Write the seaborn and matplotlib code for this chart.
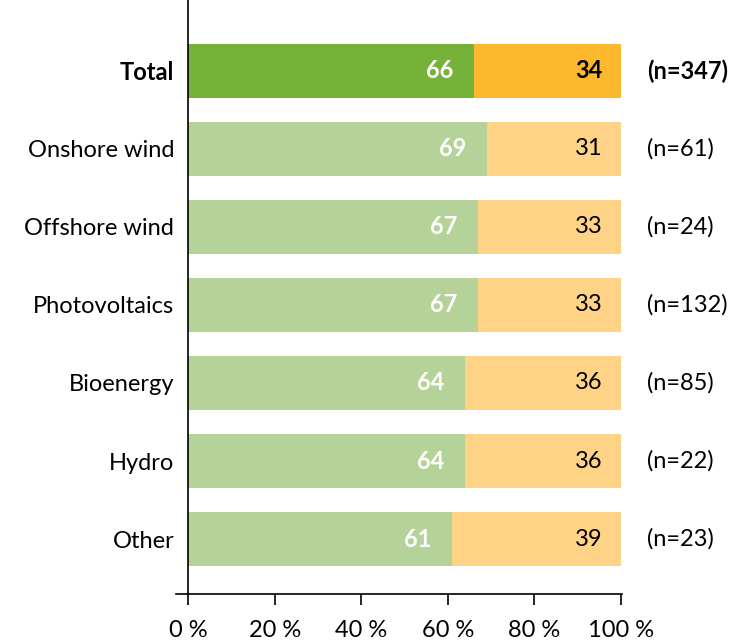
import matplotlib
matplotlib.use("Agg")
import matplotlib.pyplot as plt
import seaborn as sns
import pandas as pd

categories = ["Total", "Onshore wind", "Offshore wind", "Photovoltaics", "Bioenergy", "Hydro", "Other"]
yes_share = [66, 69, 67, 67, 64, 64, 61]
no_share = [34, 31, 33, 33, 36, 36, 39]
n_labels = ["(n=347)", "(n=61)", "(n=24)", "(n=132)", "(n=85)", "(n=22)", "(n=23)"]
tick_values = [0, 20, 40, 60, 80, 100]
tick_labels = ["0 %", "20 %", "40 %", "60 %", "80 %", "100 %"]

df = pd.DataFrame({"category": categories, "yes": yes_share, "no": no_share})
df["stacked"] = df["yes"] + df["no"]

green_colors = {c: ("#76b13a" if c == "Total" else "#b5d398") for c in categories}
orange_colors = {c: ("#fdb92e" if c == "Total" else "#fed385") for c in categories}

sns.set_style("white")
plt.rcParams['font.family'] = ['Lato', 'DejaVu Sans']
plt.rcParams['text.color'] = 'black'
plt.rcParams['xtick.color'] = 'black'
plt.rcParams['ytick.color'] = 'black'

fig = plt.figure(figsize=(7.37, 6.44), dpi=100)
ax = fig.add_axes([176 / 737, 50 / 644, 446.3 / 737, 594 / 644])

sns.barplot(data=df, y="category", x="stacked", hue="category", palette=orange_colors,
            orient="h", width=0.69, legend=False, ax=ax, linewidth=0, saturation=1)
sns.barplot(data=df, y="category", x="yes", hue="category", palette=green_colors,
            orient="h", width=0.69, legend=False, ax=ax, linewidth=0, saturation=1)

fs = 17
for i, row in df.iterrows():
    weight = "bold" if row["category"] == "Total" else "normal"
    ax.text(row["yes"] - 4.8, i, f"{row['yes']}", color="white", ha="right", va="center",
            fontsize=fs, fontweight="bold")
    ax.text(row["stacked"] - 4.2, i, f"{row['no']}", color="black", ha="right", va="center",
            fontsize=fs, fontweight=weight)
    ax.text(106, i, n_labels[i], color="black", ha="left", va="center",
            fontsize=fs, fontweight=weight, clip_on=False)

ax.set_xlim(-2.8, 100.3)
ax.set_ylim(6.705, -0.91)
ax.spines['left'].set_position(('data', 0))
ax.spines['right'].set_visible(False)
ax.spines['top'].set_visible(False)
for s in ['left', 'bottom']:
    ax.spines[s].set_visible(True)
    ax.spines[s].set_color('black')
    ax.spines[s].set_linewidth(1.2)

ax.set_xticks(tick_values)
ax.set_xticklabels(tick_labels, fontsize=fs)
ax.tick_params(axis='x', bottom=True, direction='out', length=8, width=1.2, color='black', pad=11)
ax.tick_params(axis='y', left=False, length=0, pad=10, labelsize=fs)
for lbl in ax.get_yticklabels():
    if lbl.get_text() == "Total":
        lbl.set_fontweight("bold")
ax.set_xlabel("")
ax.set_ylabel("")

fig.savefig("out.png", dpi=100)
